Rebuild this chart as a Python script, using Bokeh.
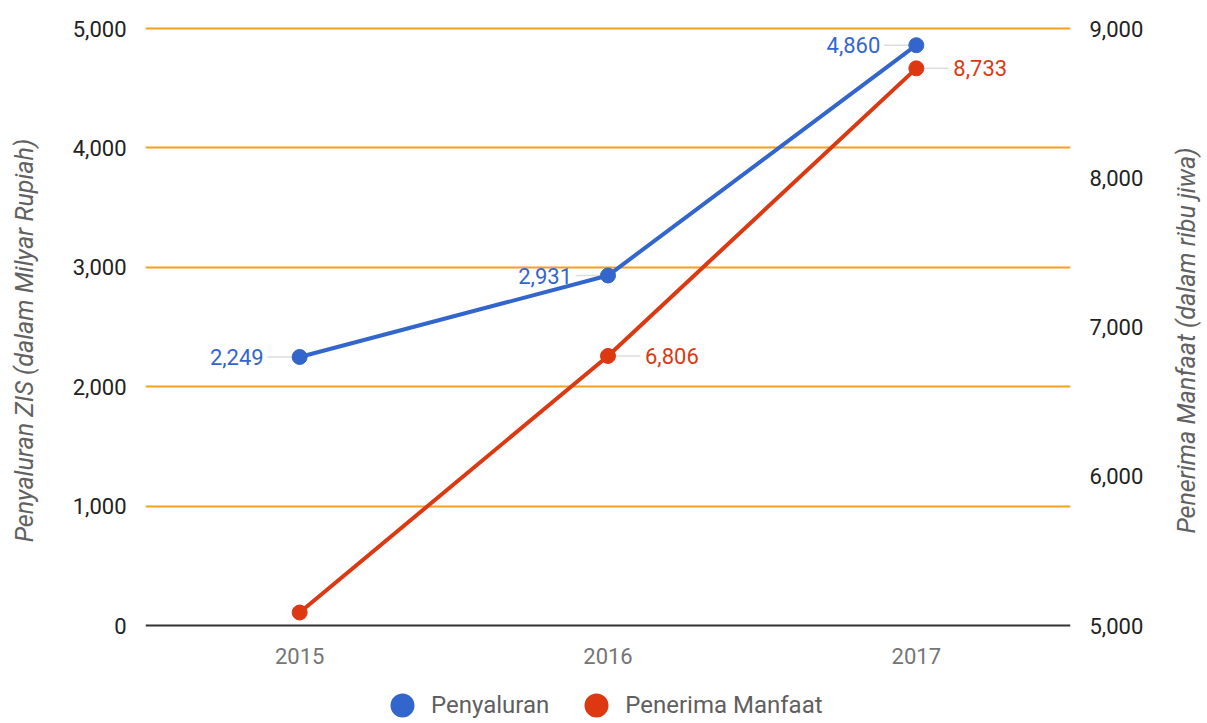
import math
import numpy as np
from bokeh.plotting import figure
from bokeh.models import (ColumnDataSource, FactorRange, Range1d, LinearAxis, FixedTicker,
                          NumeralTickFormatter, Legend, LegendItem, Label)
from bokeh.transform import dodge
from bokeh.core.properties import value
from bokeh.embed import file_html
from bokeh.resources import INLINE

# ---- data ----
years = ["2015", "2016", "2017"]
penyaluran = [2249, 2931, 4860]          # left axis (Milyar Rupiah)
penerima = [5087, 6806, 8733]            # right axis (ribu jiwa)
penerima_label_shown = [False, True, True]
left_ticks = [0, 1000, 2000, 3000, 4000, 5000]
right_ticks = [5000, 6000, 7000, 8000, 9000]
series_names = ["Penyaluran", "Penerima Manfaat"]
left_title = "Penyaluran ZIS (dalam Milyar Rupiah)"
right_title = "Penerima Manfaat (dalam ribu jiwa)"

BLUE = "#3366cc"
RED = "#dc3912"
GRID = "#f5a01e"
FONT = "Roboto"

# ---- layout (pixels) ----
W, H = 1207, 720
LEFT, RIGHT_EDGE = 145, 1070   # frame left / right
TOP = 26            # frame top
AXIS_TOP_PX = 28    # where the top tick sits
AXIS_BOT_PX = 625   # where the bottom tick / x axis sits
TITLE_MID_PX = 340  # vertical centre of the axis titles
LTITLE_X, RTITLE_X = 30, 1188

def fmt(v):
    return f"{v:,}"

src_b = ColumnDataSource(dict(x=years, y=penyaluran, t=[fmt(v) for v in penyaluran]))
src_r = ColumnDataSource(dict(x=years, y=penerima, t=[fmt(v) for v in penerima]))
lx = [x for x, s in zip(years, penerima_label_shown) if s]
ly = [v for v, s in zip(penerima, penerima_label_shown) if s]
src_rl = ColumnDataSource(dict(x=lx, y=ly, t=[fmt(v) for v in ly]))

# ranges: the frame runs to the bottom of the canvas (room for the legend)
span_px = AXIS_BOT_PX - AXIS_TOP_PX
def rng(lo, hi):
    u = (hi - lo) / span_px
    return (lo - (H - AXIS_BOT_PX) * u, hi + (AXIS_TOP_PX - TOP) * u)

l0, l1 = rng(left_ticks[0], left_ticks[-1])
r0, r1 = rng(right_ticks[0], right_ticks[-1])

p = figure(width=W, height=H, x_range=FactorRange(factors=years),
           y_range=Range1d(l0, l1),
           output_backend="svg", toolbar_location=None,
           min_border_left=LEFT, min_border_right=W - RIGHT_EDGE,
           min_border_top=TOP, min_border_bottom=0)
p.extra_y_ranges = {"r": Range1d(r0, r1)}
p.outline_line_color = None
p.background_fill_color = "white"

# x axis sits at y = 0
p.xaxis.fixed_location = left_ticks[0]
p.xaxis.axis_line_color = "#333333"
p.xaxis.axis_line_width = 2
p.xaxis.major_tick_line_color = None
p.xaxis.minor_tick_line_color = None
p.xaxis.major_label_text_font = FONT
p.xaxis.major_label_text_font_size = "22px"
p.xaxis.major_label_text_color = "#757575"
p.xaxis.major_label_standoff = 16

p.yaxis.ticker = FixedTicker(ticks=left_ticks)
p.yaxis.formatter = NumeralTickFormatter(format="0,0")
p.yaxis.axis_line_color = None
p.yaxis.major_tick_line_color = None
p.yaxis.minor_tick_line_color = None
p.yaxis.major_label_text_font = FONT
p.yaxis.major_label_text_font_size = "22px"
p.yaxis.major_label_text_color = "#222222"
p.yaxis.major_label_standoff = 13

ra = LinearAxis(y_range_name="r", ticker=FixedTicker(ticks=right_ticks),
                formatter=NumeralTickFormatter(format="0,0"),
                axis_line_color=None, major_tick_line_color=None, minor_tick_line_color=None,
                major_label_text_font=FONT, major_label_text_font_size="22px",
                major_label_text_color="#222222", major_label_standoff=13)
p.add_layout(ra, "right")

# axis titles (both read bottom-to-top), placed in the side panels
left_panel_edge = 46      # screen x of the left title panel's origin
right_panel_edge = 1148   # screen x of the right title panel's origin
for side, txt, x in (("left", left_title, LTITLE_X - left_panel_edge),
                     ("right", right_title, RTITLE_X - right_panel_edge)):
    p.add_layout(Label(text=txt, x=x, y=H - TITLE_MID_PX, x_units="screen", y_units="screen",
                       angle=math.pi / 2, text_align="center", text_baseline="middle",
                       text_font=FONT, text_font_style="italic", text_font_size="25px",
                       text_color="#616161"), side)

p.xgrid.visible = False
p.ygrid.ticker = FixedTicker(ticks=left_ticks[1:])
p.ygrid.grid_line_color = GRID
p.ygrid.grid_line_width = 2

# leader lines
p.segment(x0=dodge("x", -0.105, range=p.x_range), y0="y", x1="x", y1="y",
          source=src_b, line_color="#dddddd", line_width=1.5)
p.segment(x0="x", y0="y", x1=dodge("x", 0.105, range=p.x_range), y1="y",
          source=src_rl, line_color="#dddddd", line_width=1.5, y_range_name="r")

# data labels
p.text(x="x", y="y", text="t", source=src_b, x_offset=-36, text_align="right",
       text_baseline="middle", text_font=value(FONT), text_font_size="22px", text_color=BLUE)
p.text(x="x", y="y", text="t", source=src_rl, x_offset=37, text_align="left",
       text_baseline="middle", text_font=value(FONT), text_font_size="22px", text_color=RED,
       y_range_name="r")

# lines and points
p.line(x="x", y="y", source=src_b, line_color=BLUE, line_width=4)
p.scatter(x="x", y="y", source=src_b, size=15, fill_color=BLUE, line_color=BLUE)
p.line(x="x", y="y", source=src_r, line_color=RED, line_width=4, y_range_name="r")
p.scatter(x="x", y="y", source=src_r, size=15, fill_color=RED, line_color=RED,
          y_range_name="r")

# legend-only markers (no visible data point: y is NaN)
nan_src = dict(x=[years[0]], y=np.array([np.nan]))
lb = p.scatter(x="x", y="y", source=ColumnDataSource(nan_src), size=12,
               fill_color=BLUE, line_color=BLUE, line_width=12)
lr = p.scatter(x="x", y="y", source=ColumnDataSource(nan_src), size=12,
               fill_color=RED, line_color=RED, line_width=12)

legend = Legend(items=[LegendItem(label=series_names[0], renderers=[lb]),
                       LegendItem(label=series_names[1], renderers=[lr])],
                orientation="horizontal", location=(242, 0),
                glyph_width=30, glyph_height=30, label_standoff=14, spacing=32,
                padding=0, margin=0, border_line_color=None, background_fill_alpha=0,
                label_text_font=FONT, label_text_font_size="24px", label_text_color="#5f5f5f")
p.add_layout(legend, "center")

open("out.html", "w").write(file_html(p, INLINE))
